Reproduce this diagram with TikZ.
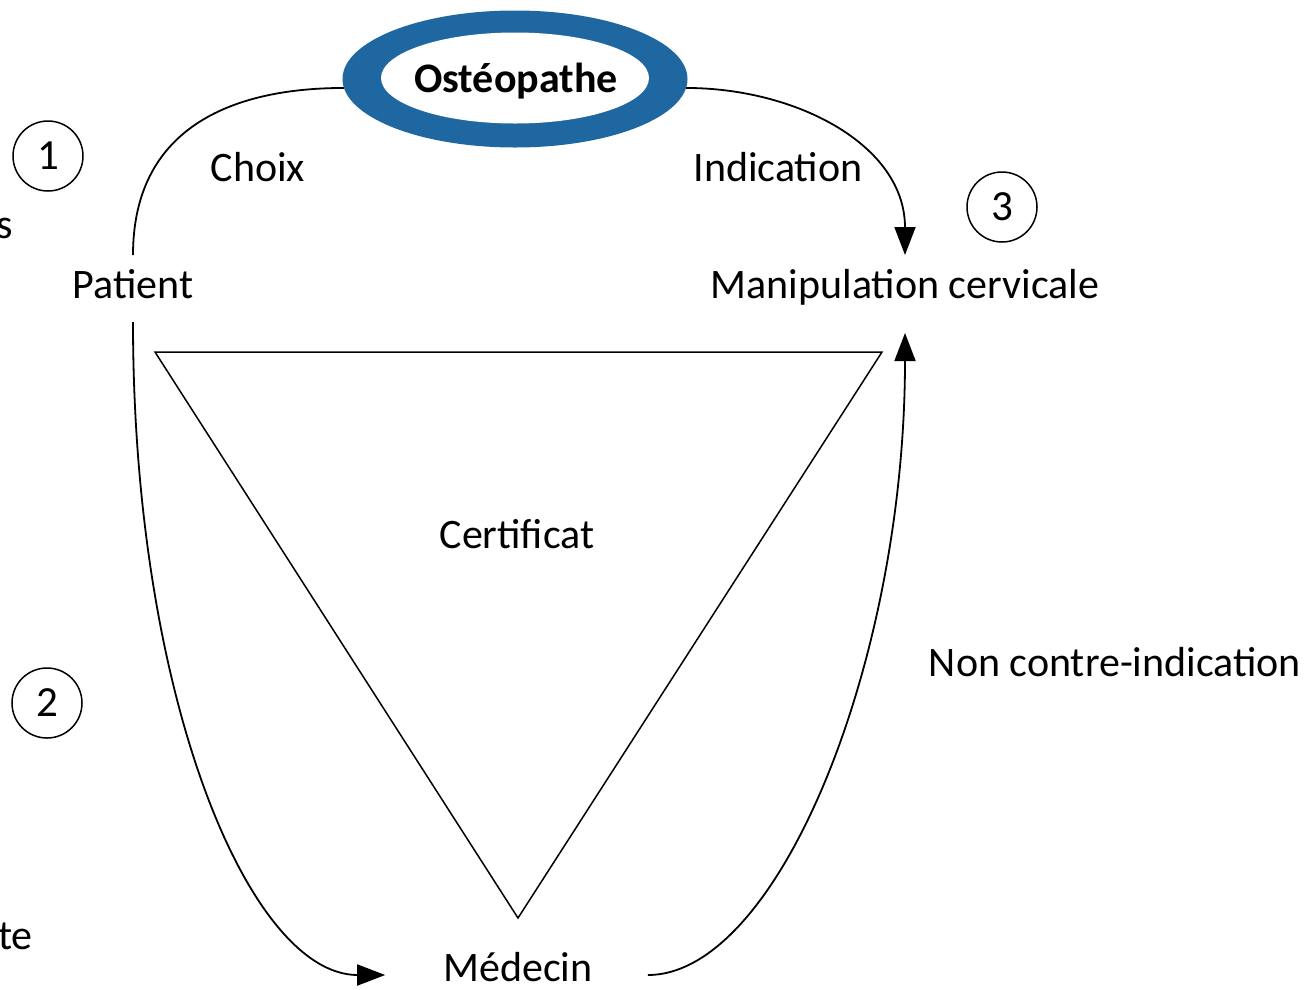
\documentclass[tikz,border=0pt]{standalone}
\usepackage{fontspec}
\setmainfont{Carlito}
\usetikzlibrary{shapes.geometric,arrows.meta}
\definecolor{ringblue}{RGB}{31,103,160}
\begin{document}
\begin{tikzpicture}[x=1pt,y=-1pt,
  lbl/.style={font=\fontsize{42}{50}\selectfont, inner sep=0pt, anchor=base},
  num/.style={circle, draw, line width=1.5pt, minimum size=70pt, inner sep=0pt, font=\fontsize{43}{50}\selectfont},
  conn/.style={line width=1.8pt},
  arr/.style={conn, -{Triangle[length=28pt,width=21pt]}},
  tri/.style={line width=1.5pt, line join=miter}]
\useasboundingbox (0,0) rectangle (1312,989);
% Osteopathe ring
\node[ellipse, fill=ringblue, minimum width=345pt, minimum height=137pt, inner sep=0pt] (osteo) at (515,79) {};
\node[ellipse, fill=white, minimum width=268pt, minimum height=91pt, inner sep=0pt] (osteoin) at (515,78) {};
\node[lbl, font=\fontsize{42}{50}\selectfont\bfseries] (osteotxt) at (516,92) {Ostéopathe};
% labels
\node[lbl] (patient) at (133,298) {Patient};
\node[lbl] (manip) at (905,298) {Manipulation cervicale};
\node[lbl] (medecin) at (518,981) {Médecin};
\node[lbl] (choix) at (258,181) {Choix};
\node[lbl] (indic) at (778,181) {Indication};
\node[lbl] (certif) at (517,548) {Certificat};
\node[lbl] (nonci) at (1115,676) {Non contre-indication};
\node[lbl, anchor=base east] (cuts) at (13,238) {s};
\node[lbl, anchor=base east] (cutte) at (33,949) {te};
% numbered circles
\node[num] (n1) at (48,156) {1};
\node[num] (n2) at (47,703) {2};
\node[num] (n3) at (1002,207) {3};
% triangle
\draw[tri] (155,352) -- (882,352) -- (518,918) -- cycle;
% connectors
\draw[conn] ([yshift=43pt]patient.base) .. controls +(0,-125) and +(-115,0) .. (osteo.183);
\draw[arr] (osteo.357) .. controls +(110,0) and +(0,-110) .. ([yshift=43pt]manip.base);
\draw[arr] ([yshift=-24pt]patient.base) .. controls +(0,378) and +(-135,0) .. ([xshift=-58pt,yshift=6pt]medecin.base west);
\draw[arr] ([xshift=55pt,yshift=6pt]medecin.base east) .. controls +(130,0) and +(0,330) .. ([yshift=-35pt]manip.base);
\end{tikzpicture}
\end{document}
